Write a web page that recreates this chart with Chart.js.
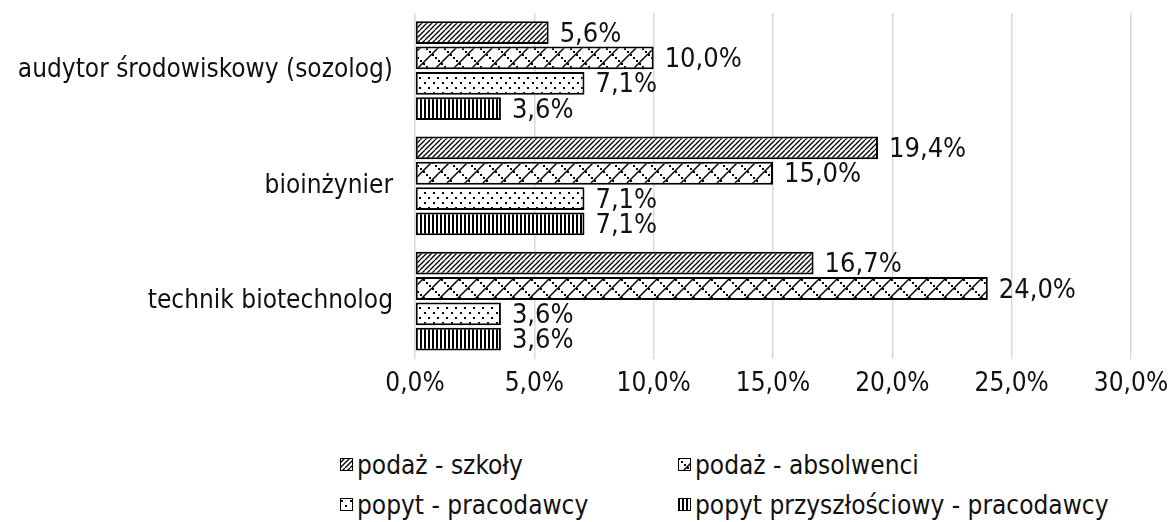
<!DOCTYPE html>
<html>
<head>
<meta charset="utf-8">
<script src="https://cdn.jsdelivr.net/npm/chart.js@4"></script>
<style>
  html, body { margin: 0; padding: 0; background: #fff; }
  #wrap { position: relative; width: 1175px; height: 522px; font-family: 'DejaVu Sans Condensed', 'DejaVu Sans', sans-serif; }
  #box { position: absolute; left: 0; top: 0; width: 1175px; height: 410px; }
  .lg { position: absolute; font-size: 26px; color: #111; line-height: 30px; white-space: nowrap; }
  .lg canvas { vertical-align: middle; margin-right: 4px; position: relative; top: -2px; }
</style>
</head>
<body>
<div id="wrap">
  <div id="box"><canvas id="c"></canvas></div>
</div>
<script>
var categories = ['audytor środowiskowy (sozolog)', 'bioinżynier', 'technik biotechnolog'];
var seriesNames = ['podaż - szkoły', 'podaż - absolwenci', 'popyt - pracodawcy', 'popyt przyszłościowy - pracodawcy'];
var szkoly      = [5.6, 19.4, 16.7];
var absolwenci  = [10.0, 15.0, 24.0];
var pracodawcy  = [7.1, 7.1, 3.6];
var przyszlosc  = [3.6, 7.1, 3.6];
var xTicks = [0, 5, 10, 15, 20, 25, 30];

var FONT = "'DejaVu Sans Condensed', 'DejaVu Sans', sans-serif";
var FSIZE = 26;

function fmtPct(v) {
  return v.toFixed(1).replace('.', ',') + '%';
}

// tiny tiles turned into canvas patterns
function makeTile(kind) {
  var t = document.createElement('canvas');
  var ctx;
  if (kind === 'diag') {
    t.width = 10; t.height = 10;
    ctx = t.getContext('2d');
    ctx.fillStyle = '#fff'; ctx.fillRect(0, 0, 10, 10);
    ctx.strokeStyle = '#000'; ctx.lineWidth = 1.3;
    for (var o = -10; o <= 20; o += 5) {
      ctx.beginPath(); ctx.moveTo(o, 10); ctx.lineTo(o + 10, 0); ctx.stroke();
    }
  } else if (kind === 'zig') {
    t.width = 18; t.height = 18;
    ctx = t.getContext('2d');
    ctx.fillStyle = '#fff'; ctx.fillRect(0, 0, 18, 18);
    ctx.strokeStyle = '#000'; ctx.lineWidth = 1.5;
    for (var o2 = -18; o2 <= 18; o2 += 18) {
      ctx.beginPath(); ctx.moveTo(o2, 18); ctx.lineTo(o2 + 18, 0); ctx.stroke();
    }
    ctx.fillStyle = '#000';
    for (var i = 0; i < 18; i += 3) {
      ctx.fillRect(i, i, 2, 2);
    }
  } else if (kind === 'dots') {
    t.width = 9; t.height = 10;
    ctx = t.getContext('2d');
    ctx.fillStyle = '#fff'; ctx.fillRect(0, 0, 9, 10);
    ctx.fillStyle = '#000';
    ctx.fillRect(1, 2, 2, 2);
    ctx.fillRect(5, 7, 2, 2);
  } else {
    t.width = 4; t.height = 4;
    ctx = t.getContext('2d');
    ctx.fillStyle = '#fff'; ctx.fillRect(0, 0, 4, 4);
    ctx.fillStyle = '#000'; ctx.fillRect(0, 0, 2, 4);
  }
  return t;
}

var kinds = ['diag', 'zig', 'dots', 'vert'];
var patCtx = document.createElement('canvas').getContext('2d');
var patterns = kinds.map(function(k) { return patCtx.createPattern(makeTile(k), 'repeat'); });
var values = [szkoly, absolwenci, pracodawcy, przyszlosc];

var datasets = seriesNames.map(function(name, i) {
  return {
    label: name,
    data: values[i],
    backgroundColor: patterns[i],
    borderColor: '#000',
    borderWidth: 2,
    borderSkipped: false,
    categoryPercentage: 0.88,
    barPercentage: 0.9
  };
});

var valueLabels = {
  id: 'valueLabels',
  afterDatasetsDraw: function(chart) {
    var ctx = chart.ctx;
    ctx.save();
    ctx.font = '27px ' + FONT;
    ctx.fillStyle = '#111';
    ctx.textBaseline = 'middle';
    ctx.textAlign = 'left';
    chart.data.datasets.forEach(function(ds, di) {
      chart.getDatasetMeta(di).data.forEach(function(bar, j) {
        ctx.fillText(fmtPct(ds.data[j]), bar.x + 11, bar.y + 2);
      });
    });
    ctx.restore();
  }
};

new Chart(document.getElementById('c'), {
  type: 'bar',
  data: { labels: categories, datasets: datasets },
  options: {
    indexAxis: 'y',
    responsive: true,
    maintainAspectRatio: false,
    animation: false,
    layout: { padding: { top: 13, right: 44, bottom: 0, left: 0 } },
    plugins: { legend: { display: false }, tooltip: { enabled: false } },
    scales: {
      x: {
        min: 0, max: 30,
        afterBuildTicks: function(scale) {
          scale.ticks = xTicks.map(function(v) { return { value: v }; });
        },
        afterFit: function(scale) {
          scale.paddingRight = 0;
        },
        grid: { color: '#d9d9d9', lineWidth: 1.5, drawTicks: false },
        border: { display: false },
        ticks: {
          padding: 10,
          color: '#111',
          font: { family: FONT, size: FSIZE },
          callback: function(v) { return fmtPct(v); }
        }
      },
      y: {
        grid: { display: false, drawTicks: false },
        border: { display: false },
        afterFit: function(scale) {
          scale.width = 415;
          scale.paddingTop = 0;
          scale.paddingBottom = 0;
        },
        ticks: {
          padding: 22,
          color: '#111',
          font: { family: FONT, size: FSIZE }
        }
      }
    }
  },
  plugins: [valueLabels]
});

// legend in two columns
var legendPos = [[340, 465], [678, 465], [340, 505], [678, 505]];
var wrap = document.getElementById('wrap');
seriesNames.forEach(function(name, i) {
  var d = document.createElement('div');
  d.className = 'lg';
  d.style.left = legendPos[i][0] + 'px';
  d.style.top = (legendPos[i][1] - 15) + 'px';
  var sw = document.createElement('canvas');
  sw.width = 13; sw.height = 13;
  var sc = sw.getContext('2d');
  sc.fillStyle = sc.createPattern(makeTile(kinds[i]), 'repeat');
  sc.fillRect(0, 0, 13, 13);
  sc.strokeStyle = '#000'; sc.lineWidth = 1;
  sc.strokeRect(0.5, 0.5, 12, 12);
  d.appendChild(sw);
  d.appendChild(document.createTextNode(name));
  wrap.appendChild(d);
});
</script>
</body>
</html>
